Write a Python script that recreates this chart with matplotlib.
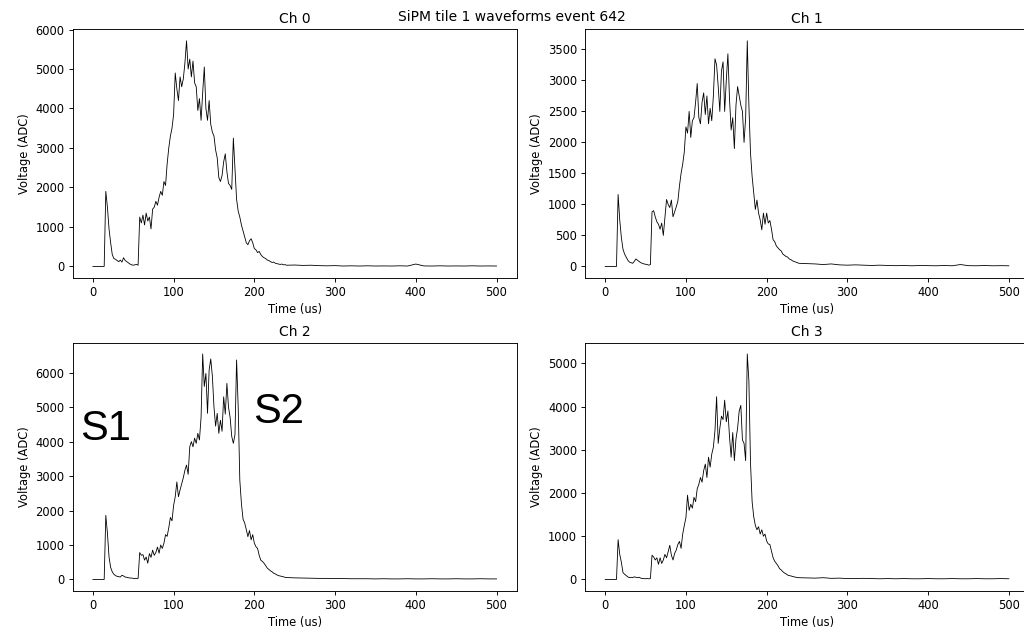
import numpy as np
import matplotlib
matplotlib.use("Agg")
import matplotlib.pyplot as plt

# ---------------------------------------------------------------
# Waveform data (ADC counts)
# dense part: 0..240 us every 2 us, tail: 250..500 us every 10 us
# ---------------------------------------------------------------
T_MAIN = np.arange(0, 241, 2)
T_TAIL = np.arange(250, 501, 10)

CH0_MAIN = [
    0, 0, 0, 0, 0, 0, 0, 0, 1900, 1500,
    950, 600, 300, 200, 180, 150, 120, 160, 110, 220,
    150, 120, 90, 60, 40, 30, 40, 50, 30, 1250,
    1100, 1300, 1050, 1350, 1150, 1250, 950, 1450, 1500, 1650,
    1550, 1750, 1900, 1800, 2150, 2050, 2600, 3000, 3300, 3500,
    3850, 4900, 4500, 4200, 4800, 4550, 4750, 5150, 5715, 5000,
    5250, 4800, 5200, 4650, 4550, 3950, 4250, 3700, 4400, 5050,
    4000, 3700, 4200, 3600, 3400, 3300, 2950, 2750, 2250, 2150,
    2300, 2650, 2850, 2400, 2100, 2050, 1950, 3250, 2450, 1700,
    1400, 1250, 1050, 900, 750, 600, 550, 650, 700, 600,
    450, 420, 350, 380, 300, 250, 220, 200, 160, 150,
    120, 100, 110, 80, 70, 60, 50, 60, 40, 45,
    30,
]
CH0_TAIL = [35, 25, 30, 20, 15, 20, 10, 15, 10, 15, 10, 12, 10,
            15, 10, 60, 12, 10, 15, 10, 12, 10, 15, 10, 12, 10]

CH1_MAIN = [
    0, 0, 0, 0, 0, 0, 0, 0, 1160, 750,
    470, 280, 200, 150, 100, 70, 60, 50, 80, 120,
    100, 80, 60, 50, 40, 35, 30, 20, 30, 880,
    900, 800, 720, 680, 600, 700, 500, 800, 1080, 1000,
    950, 1070, 800, 880, 960, 1050, 1300, 1500, 1650, 1850,
    2250, 2150, 2500, 2080, 2350, 2400, 2650, 2950, 2400, 2300,
    2650, 2800, 2450, 2750, 2300, 2550, 2350, 2750, 3350, 3250,
    2900, 2500, 3150, 3300, 2500, 3000, 3430, 2700, 2200, 2400,
    1900, 2600, 2900, 2750, 2600, 2500, 2000, 2400, 3640, 2600,
    1830, 1450, 1180, 920, 1070, 860, 750, 590, 860, 680,
    860, 700, 740, 600, 430, 400, 330, 300, 270, 250,
    200, 180, 160, 150, 120, 110, 90, 80, 70, 60,
    50,
]
CH1_TAIL = [45, 40, 30, 40, 25, 20, 25, 20, 15, 20, 15, 12, 15,
            10, 15, 12, 10, 15, 10, 30, 12, 10, 15, 10, 12, 10]

CH2_MAIN = [
    0, 0, 0, 0, 0, 0, 0, 0, 1860, 1350,
    650, 350, 220, 150, 110, 90, 80, 70, 120, 100,
    70, 60, 50, 40, 40, 30, 30, 25, 30, 780,
    700, 720, 560, 650, 470, 750, 640, 850, 700, 780,
    940, 760, 1000, 900, 1050, 1300, 1250, 1500, 1800, 1700,
    2150, 2400, 2830, 2400, 2600, 2780, 2950, 3170, 3320, 3050,
    3850, 4000, 3850, 4100, 3950, 4240, 4050, 4700, 6545, 5600,
    5980, 4820, 6080, 6400, 5900, 5000, 4450, 4820, 4240, 4620,
    4300, 5300, 4800, 5690, 5000, 4700, 4150, 3950, 4200, 6370,
    5000, 2880, 2200, 1750, 1640, 1450, 1240, 1420, 1150, 1300,
    1050, 950, 900, 700, 560, 520, 470, 400, 330, 290,
    250, 220, 180, 160, 130, 110, 100, 90, 77, 60,
    55,
]
CH2_TAIL = [45, 40, 35, 30, 30, 25, 25, 20, 20, 20, 15, 20, 15,
            15, 20, 15, 15, 20, 15, 15, 20, 15, 15, 20, 15, 15]

CH3_MAIN = [
    0, 0, 0, 0, 0, 0, 0, 0, 920, 580,
    400, 160, 120, 90, 60, 40, 50, 40, 60, 50,
    40, 50, 30, 20, 20, 15, 20, 15, 20, 560,
    520, 450, 500, 350, 500, 370, 450, 580, 500, 640,
    790, 560, 450, 600, 680, 810, 880, 720, 1050, 1250,
    1430, 1950, 1600, 1740, 1650, 1900, 1800, 2100, 2200, 2360,
    2250, 2520, 2670, 2360, 2830, 2600, 2900, 3060, 3450, 4230,
    3150, 3500, 3780, 3700, 4150, 3650, 3900, 3300, 2830, 3400,
    2750, 3250, 3500, 3900, 4030, 3230, 3150, 2750, 5220, 4600,
    2700, 1800, 1450, 1250, 1150, 1220, 1050, 1150, 1000, 1050,
    890, 820, 810, 650, 500, 420, 370, 320, 250, 220,
    180, 150, 130, 100, 90, 78, 70, 60, 50, 45,
    40,
]
CH3_TAIL = [35, 30, 40, 25, 30, 20, 20, 25, 20, 15, 20, 15, 20,
            15, 15, 20, 15, 15, 20, 15, 15, 20, 15, 15, 20, 15]

CHANNEL_NAMES = ["Ch 0", "Ch 1", "Ch 2", "Ch 3"]
MAIN_VALUES = [CH0_MAIN, CH1_MAIN, CH2_MAIN, CH3_MAIN]
TAIL_VALUES = [CH0_TAIL, CH1_TAIL, CH2_TAIL, CH3_TAIL]

SUPTITLE = "SiPM tile 1 waveforms event 642"

# axes boxes in figure fractions (left, bottom, width, height)
AXES_BOXES = [
    [0.0710, 0.5620, 0.4336, 0.3915],
    [0.5713, 0.5620, 0.4336, 0.3915],
    [0.0710, 0.0683, 0.4336, 0.3912],
    [0.5713, 0.0683, 0.4336, 0.3912],
]

plt.rcParams.update({
    "font.family": "DejaVu Sans",
    "font.size": 8.3,
    "axes.linewidth": 0.66,
    "xtick.major.size": 2.9,
    "ytick.major.size": 2.9,
    "xtick.major.width": 0.66,
    "ytick.major.width": 0.66,
    "xtick.major.pad": 2.9,
    "ytick.major.pad": 2.9,
    "axes.labelpad": 3.3,
})


def main():
    fig = plt.figure(figsize=(10.24, 6.34), dpi=100)

    for name, box, main_vals, tail_vals in zip(CHANNEL_NAMES, AXES_BOXES, MAIN_VALUES, TAIL_VALUES):
        ax = fig.add_axes(box)
        t = np.concatenate([T_MAIN, T_TAIL])
        v = np.concatenate([main_vals, tail_vals])
        ax.plot(t, v, color="black", linewidth=0.6)
        ax.set_title(name, fontsize=10, pad=5)
        ax.set_xlabel("Time (us)", fontsize=8.3)
        ax.set_ylabel("Voltage (ADC)", fontsize=8.3)
        ax.set_xticks([0, 100, 200, 300, 400, 500])

    fig.suptitle(SUPTITLE, fontsize=10, y=0.973, va="center")

    # big S1 / S2 markers on Ch 2
    fig.text(0.078, 0.306, "S1", fontsize=30, family="Liberation Sans", color="black")
    fig.text(0.247, 0.333, "S2", fontsize=30, family="Liberation Sans", color="black")

    fig.savefig("out.png", dpi=100)


if __name__ == "__main__":
    main()
